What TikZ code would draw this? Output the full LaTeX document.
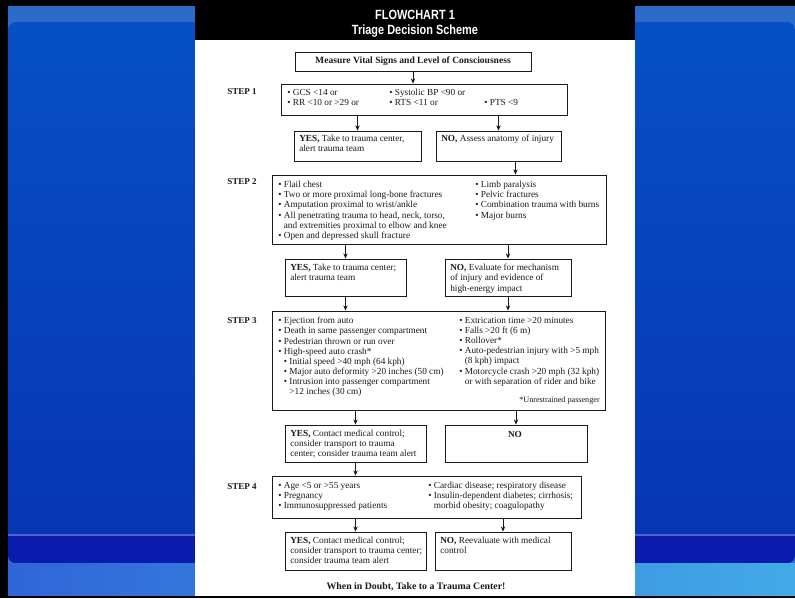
\documentclass[tikz,border=0pt]{standalone}
\usepackage{fontspec}
\setmainfont{Liberation Serif}
\newfontfamily\headfont[FakeStretch=0.82]{Liberation Sans}
\usetikzlibrary{arrows.meta,calc,fit,positioning}
\definecolor{SkyTop}{HTML}{2D6BC9}
\definecolor{PanelTop}{HTML}{0650C6}
\definecolor{PanelLow}{HTML}{0734B4}
\definecolor{BandDeep}{HTML}{0A1CAE}
\definecolor{BandLine}{HTML}{5460D2}
\definecolor{FloorL}{HTML}{2F66D8}
\definecolor{FloorR}{HTML}{42AAE6}
\definecolor{Ink}{HTML}{1A1A1A}
\newcommand{\bul}{\textbullet\ }
\newcommand{\bulgap}{\phantom{\textbullet\ }}
\tikzset{
  framebox/.style={draw=Ink, line width=0.65pt, fill=white, inner sep=0pt, fit={#1}},
  txt/.style={font=\fontsize{6.6}{7.2}\selectfont, align=left, inner sep=0pt,
    anchor=north west, text=Ink},
  boldtxt/.style={font=\fontsize{6.8}{8}\selectfont\bfseries, inner sep=0pt, text=Ink},
  steplabel/.style={font=\fontsize{6.4}{7.2}\selectfont\bfseries, inner sep=0pt,
    anchor=west, text=Ink},
  headtxt/.style={font=\headfont\bfseries\fontsize{9.5}{11}\selectfont, text=white, inner sep=0pt},
  flow/.style={-{Stealth[length=1.3mm,width=1.1mm]}, line width=0.5pt, draw=Ink}
}
\begin{document}
\begin{tikzpicture}[x=0.025cm,y=-0.025cm]
  \useasboundingbox (0,0) rectangle (795,598);
  \clip (0,0) rectangle (795,598);
  % slide background
  \fill[black] (0,0) rectangle (795,598);
  \fill[SkyTop] (8,6) rectangle (795,595);
  \shade[top color=PanelTop, bottom color=PanelLow, rounded corners=0.2cm] (8,22) rectangle (795,563);
  \fill[BandDeep, rounded corners=0.2cm] (8,535) rectangle (795,563);
  \fill[BandDeep] (8,535) rectangle (795,550);
  \draw[BandLine, line width=1pt] (8,535) -- (795,535);
  \shade[left color=FloorL, right color=FloorR] (8,563) rectangle (795,595);
  % page and header
  \fill[white] (195,0) rectangle (635,596);
  \node[fill=black, inner sep=0pt, fit={(195,0) (635,40)}] (head) {};
  \node[headtxt] (headone) at (415,15) {FLOWCHART 1};
  \node[headtxt] (headtwo) at (415,31) {Triage Decision Scheme};

  % boxes
  \node[framebox={(295,52) (531,71)}] (measure) {};
  \node[framebox={(281,84) (567,115)}] (s1) {};
  \node[framebox={(294,131) (421,161)}] (yes1) {};
  \node[framebox={(436,131) (561,161)}] (no1) {};
  \node[framebox={(272,175) (606,244)}] (s2) {};
  \node[framebox={(285,259) (406,296)}] (yes2) {};
  \node[framebox={(445,259) (571,296)}] (no2) {};
  \node[framebox={(272,311) (605,410)}] (s3) {};
  \node[framebox={(285,425) (426,462)}] (yes3) {};
  \node[framebox={(445,425) (587,462)}] (no3) {};
  \node[framebox={(272,476) (581,518)}] (s4) {};
  \node[framebox={(285,532) (426,570)}] (yes4) {};
  \node[framebox={(435,532) (571,570)}] (no4) {};

  % step labels
  \node[steplabel] (lab1) at (227,92) {STEP 1};
  \node[steplabel] (lab2) at (227,182) {STEP 2};
  \node[steplabel] (lab3) at (227,321) {STEP 3};
  \node[steplabel] (lab4) at (227,487) {STEP 4};

  % texts
  \node[boldtxt] (measuretxt) at (measure.center) {Measure Vital Signs and Level of Consciousness};
  \node[txt] (s1a) at (287,89) {\bul GCS <14 or\\\bul RR <10 or >29 or};
  \node[txt] (s1b) at (389,89) {\bul Systolic BP <90 or\\\bul RTS <11 or};
  \node[txt] (s1c) at (484,99) {\bul PTS <9};
  \node[txt] (yes1txt) at (299,135) {\textbf{YES,} Take to trauma center,\\alert trauma team};
  \node[txt] (no1txt) at (441,135) {\textbf{NO,} Assess anatomy of injury};
  \node[txt] (s2a) at (278,181) {\bul Flail chest\\
    \bul Two or more proximal long-bone fractures\\
    \bul Amputation proximal to wrist/ankle\\
    \bul All penetrating trauma to head, neck, torso,\\
    \bulgap and extremities proximal to elbow and knee\\
    \bul Open and depressed skull fracture};
  \node[txt] (s2b) at (475,181) {\bul Limb paralysis\\
    \bul Pelvic fractures\\
    \bul Combination trauma with burns\\
    \bul Major burns};
  \node[txt] (yes2txt) at (290,264) {\textbf{YES,} Take to trauma center;\\alert trauma team};
  \node[txt] (no2txt) at (450,264) {\textbf{NO,} Evaluate for mechanism\\of injury and evidence of\\high-energy impact};
  \node[txt] (s3a) at (278,317) {\bul Ejection from auto\\
    \bul Death in same passenger compartment\\
    \bul Pedestrian thrown or run over\\
    \bul High-speed auto crash*\\
    \bulgap\bul Initial speed >40 mph (64 kph)\\
    \bulgap\bul Major auto deformity >20 inches (50 cm)\\
    \bulgap\bul Intrusion into passenger compartment\\
    \bulgap\bulgap >12 inches (30 cm)};
  \node[txt] (s3b) at (459,317) {\bul Extrication time >20 minutes\\
    \bul Falls >20 ft (6 m)\\
    \bul Rollover*\\
    \bul Auto-pedestrian injury with >5 mph\\
    \bulgap (8 kph) impact\\
    \bul Motorcycle crash >20 mph (32 kph)\\
    \bulgap or with separation of rider and bike};
  \node[txt, anchor=east, font=\fontsize{5.8}{7}\selectfont] (s3note) at (600,401) {*Unrestrained passenger};
  \node[txt] (yes3txt) at (290,430) {\textbf{YES,} Contact medical control;\\consider transport to trauma\\center; consider trauma team alert};
  \node[boldtxt, font=\fontsize{6.6}{7.2}\selectfont\bfseries] (no3txt) at (515,434) {NO};
  \node[txt] (s4a) at (278,482) {\bul Age <5 or >55 years\\
    \bul Pregnancy\\
    \bul Immunosuppressed patients};
  \node[txt] (s4b) at (428,482) {\bul Cardiac disease; respiratory disease\\
    \bul Insulin-dependent diabetes; cirrhosis;\\
    \bulgap morbid obesity; coagulopathy};
  \node[txt] (yes4txt) at (290,537) {\textbf{YES,} Contact medical control;\\consider transport to trauma center;\\consider trauma team alert};
  \node[txt] (no4txt) at (440,537) {\textbf{NO,} Reevaluate with medical\\control};
  \node[boldtxt, font=\fontsize{7}{8}\selectfont\bfseries] (doubt) at (416,587) {When in Doubt, Take to a Trauma Center!};

  % connectors
  \coordinate (no1out) at ($(no1.south)+(17,0)$);
  \draw[flow] (measure.south) -- (s1.north -| measure.south);
  \draw[flow] (s1.south -| yes1.north) -- (yes1.north);
  \draw[flow] (s1.south -| no1.north) -- (no1.north);
  \draw[flow] (no1out) -- (s2.north -| no1out);
  \draw[flow] (s2.south -| yes2.north) -- (yes2.north);
  \draw[flow] (s2.south -| no2.north) -- (no2.north);
  \draw[flow] (yes2.south) -- (s3.north -| yes2.south);
  \draw[flow] (no2.south) -- (s3.north -| no2.south);
  \draw[flow] (s3.south -| yes3.north) -- (yes3.north);
  \draw[flow] (s3.south -| no3.north) -- (no3.north);
  \draw[flow] (yes3.south) -- (s4.north -| yes3.south);
  \draw[flow] (s4.south -| yes4.north) -- (yes4.north);
  \draw[flow] (s4.south -| no4.north) -- (no4.north);
\end{tikzpicture}
\end{document}
